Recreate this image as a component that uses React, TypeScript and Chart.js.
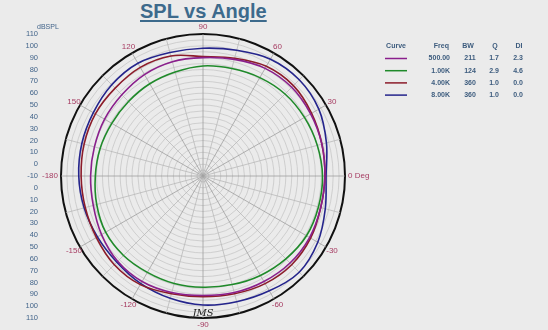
import React, { useEffect, useRef } from "react";
import { Chart, registerables } from "chart.js";

Chart.register(...registerables);

// Angles in the order the radial scale lays them out (top, then clockwise)
const ANGLES = [90, 75, 60, 45, 30, 15, 0, -15, -30, -45, -60, -75, -90, -105, -120, -135, -150, -165, 180, 165, 150, 135, 120, 105];

// SPL (dB) at each angle above
const SPL_500 = [90, 92, 95, 96, 95, 94, 93, 93, 94, 94, 93, 92, 91, 92, 93, 92, 89, 86, 85, 85, 86, 87, 89, 90];
const SPL_1K = [83, 84, 86, 88, 89, 90, 91, 91, 91, 89, 87, 85, 84, 84, 84, 85, 85, 83, 81, 80, 79, 79, 80, 81];
const SPL_4K = [91, 93, 97, 98, 96, 94, 93, 93, 95, 96, 95, 93, 92, 93, 96, 96, 94, 93, 93, 94, 95, 95, 96, 95];
const SPL_8K = [98, 100, 104, 105, 103, 98, 94, 97, 102, 105, 102, 100, 99, 97, 95, 93, 93, 94, 95, 96, 97, 99, 100, 98];

const SERIES_FREQ = ["500.00", "1.00K", "4.00K", "8.00K"];
const SERIES_BW = ["211", "124", "360", "360"];
const SERIES_Q = ["1.7", "2.9", "1.0", "1.0"];
const SERIES_DI = ["2.3", "4.6", "0.0", "0.0"];
const SERIES_COLORS = ["#8a1f8c", "#1f8a2a", "#8c1c2a", "#24248c"];

const DB_MIN = -10;
const DB_MAX = 110;
const DB_LABELS = [-10, 0, 10, 20, 30, 40, 50, 60, 70, 80, 90, 100, 110];

const angleText = (a: number) => {
  if (a === 0) return "0 Deg";
  if (a === 180) return "-180";
  return a % 30 === 0 ? String(a) : "";
};

const overlayPlugin = {
  id: "overlay",
  afterDraw(chart: any) {
    const ctx = chart.ctx;
    const s = chart.scales.r;
    const xc = s.xCenter;
    const yc = s.yCenter;
    ctx.save();
    // angle labels
    ctx.fillStyle = "#a63c62";
    ctx.font = "8px Arial, 'Liberation Sans', sans-serif";
    ctx.textBaseline = "middle";
    ANGLES.forEach((a, i) => {
      const t = angleText(a);
      if (!t) return;
      if (a === 0) {
        const p = s.getPointPosition(i, s.drawingArea + 3);
        ctx.textAlign = "left";
        ctx.fillText(t, p.x, p.y);
      } else if (a === 180) {
        const p = s.getPointPosition(i, s.drawingArea + 3);
        ctx.textAlign = "right";
        ctx.fillText(t, p.x, p.y);
      } else {
        const p = s.getPointPosition(i, s.drawingArea + 7);
        ctx.textAlign = "center";
        ctx.fillText(t, p.x, p.y);
      }
    });
    // left dB axis
    ctx.fillStyle = "#42648a";
    ctx.font = "7.5px Arial, 'Liberation Sans', sans-serif";
    ctx.textAlign = "right";
    DB_LABELS.forEach((v) => {
      const d = s.getDistanceFromCenterForValue(v);
      ctx.fillText(String(v), 38, yc - d);
      if (v >= 0) ctx.fillText(String(v), 38, yc + d);
    });
    ctx.textAlign = "left";
    ctx.font = "7px Arial, 'Liberation Sans', sans-serif";
    ctx.fillText("dBSPL", 37, 27);

    // legend table
    ctx.fillStyle = "#3d5c7e";
    ctx.font = "bold 7px Arial, 'Liberation Sans', sans-serif";
    ctx.textAlign = "center";
    ctx.fillText("Curve", 396, 46);
    ctx.textAlign = "right";
    ctx.fillText("Freq", 449, 46);
    ctx.textAlign = "center";
    ctx.fillText("BW", 468, 46);
    ctx.fillText("Q", 495, 46);
    ctx.fillText("DI", 519, 46);
    chart.data.datasets.forEach((ds: any, i: number) => {
      const y = 58.5 + i * 12.2;
      ctx.strokeStyle = ds.borderColor;
      ctx.lineWidth = 1.5;
      ctx.beginPath();
      ctx.moveTo(385, y);
      ctx.lineTo(407, y);
      ctx.stroke();
      ctx.textAlign = "right";
      ctx.fillText(SERIES_FREQ[i], 450, y);
      ctx.textAlign = "center";
      ctx.fillText(SERIES_BW[i], 470, y);
      ctx.fillText(SERIES_Q[i], 494, y);
      ctx.fillText(SERIES_DI[i], 518, y);
    });

    // signature
    ctx.fillStyle = "#222";
    ctx.font = "italic 10px 'DejaVu Serif', serif";
    ctx.textAlign = "center";
    ctx.fillText("JMS", xc, yc + s.drawingArea - 5);
    ctx.restore();
  },
};

export default function App() {
  const ref = useRef<HTMLCanvasElement | null>(null);
  useEffect(() => {
    if (!ref.current) return;
    const series = [SPL_500, SPL_1K, SPL_4K, SPL_8K];
    const chart = new Chart(ref.current, {
      type: "radar",
      data: {
        labels: ANGLES.map(String),
        datasets: series.map((d, i) => ({
          label: SERIES_FREQ[i],
          data: d,
          borderColor: SERIES_COLORS[i],
          backgroundColor: "transparent",
          borderWidth: 1.6,
          fill: false,
          pointRadius: 0,
          pointHoverRadius: 0,
          tension: 0.35,
        })),
      },
      options: {
        responsive: false,
        animation: false,
        events: [],
        layout: { padding: { left: 61, right: 203, top: 34, bottom: 12 } },
        plugins: { legend: { display: false }, tooltip: { enabled: false } },
        scales: {
          r: {
            min: DB_MIN,
            max: DB_MAX,
            ticks: { display: false, stepSize: 5 },
            pointLabels: { display: false },
            grid: {
              circular: true,
              color: (c: any) => (c.tick && c.tick.value === DB_MAX ? "#111" : "rgba(195,195,195,0.9)"),
              lineWidth: (c: any) => (c.tick && c.tick.value === DB_MAX ? 2 : 0.8),
            },
            angleLines: {
              color: (c: any) => (ANGLES[c.index] % 30 === 0 ? "rgba(150,150,150,0.9)" : "rgba(180,180,180,0.9)"),
              lineWidth: 0.8,
            },
          },
        },
      },
      plugins: [overlayPlugin],
    } as any);
    return () => chart.destroy();
  }, []);

  return (
    <div style={{ position: "fixed", left: 0, top: 0, width: 548, height: 330, background: "#ebebeb", overflow: "hidden" }}>
      <div
        style={{
          position: "absolute",
          left: 140,
          top: 0,
          fontFamily: "Arial, 'Liberation Sans', sans-serif",
          fontWeight: "bold",
          fontSize: 20,
          color: "#3d6a8c",
          textDecoration: "underline",
          textDecorationThickness: "2px",
          textUnderlineOffset: "2px",
          whiteSpace: "nowrap",
        }}
      >
        SPL vs Angle
      </div>
      <canvas ref={ref} width={548} height={330} style={{ position: "absolute", left: 0, top: 0 }} />
    </div>
  );
}
